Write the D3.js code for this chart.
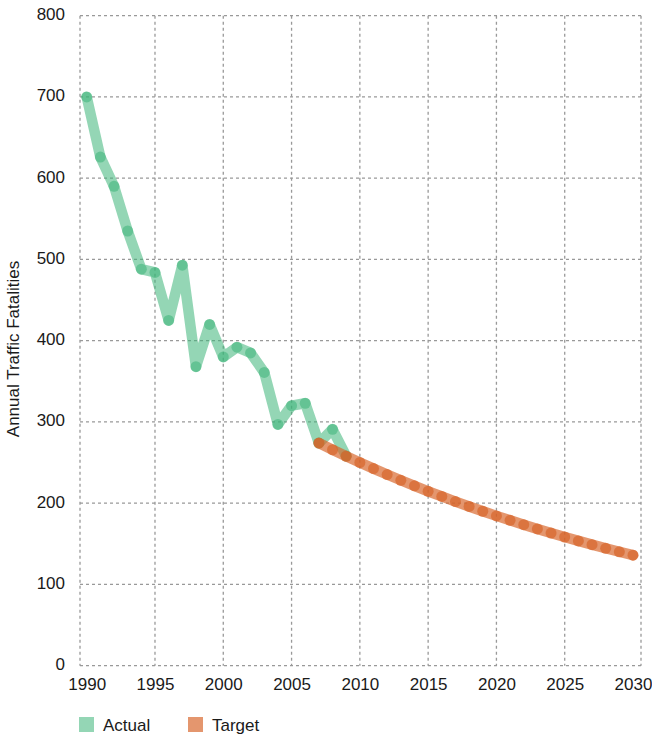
<!DOCTYPE html>
<html>
<head>
<meta charset="utf-8">
<script src="https://cdn.jsdelivr.net/npm/d3@7"></script>
<style>
  html, body { margin: 0; padding: 0; background: #fff; }
  svg text { font-family: "Liberation Sans", Arial, sans-serif; fill: #1a1a1a; }
</style>
</head>
<body>
<svg id="chart" width="652" height="738"></svg>
<script>
// Datos
const actualYears = [1990, 1991, 1992, 1993, 1994, 1995, 1996, 1997, 1998, 1999,
                     2000, 2001, 2002, 2003, 2004, 2005, 2006, 2007, 2008, 2009];
const actualValues = [700, 626, 590, 535, 488, 484, 425, 493, 368, 420,
                      380, 392, 385, 361, 297, 320, 323, 274, 291, 258];

const targetYears = [2007, 2008, 2009, 2010, 2011, 2012, 2013, 2014, 2015, 2016, 2017, 2018,
                     2019, 2020, 2021, 2022, 2023, 2024, 2025, 2026, 2027, 2028, 2029, 2030];
const targetValues = [274, 265.8, 257.8, 250.1, 242.6, 235.3, 228.2, 221.4, 214.7, 208.3, 202.0, 196.0,
                      190.1, 184.4, 178.9, 173.5, 168.3, 163.3, 158.4, 153.6, 149.0, 144.5, 140.2, 136.0];

const xTicks = [1990, 1995, 2000, 2005, 2010, 2015, 2020, 2025, 2030];
const yTicks = [0, 100, 200, 300, 400, 500, 600, 700, 800];
const seriesNames = ["Actual", "Target"];
const seriesColors = ["rgb(60,180,121)", "rgb(215,100,42)"];
const seriesOpacity = [0.55, 0.68];

const svg = d3.select("#chart");

// Área del gráfico
const plotLeft = 80, plotRight = 641, plotTop = 15.7, plotBottom = 665.7;

const x = d3.scaleLinear().domain([1990, 2030]).range([86.7, 633]);
const y = d3.scaleLinear().domain([0, 800]).range([plotBottom, plotTop]);

// Rejilla
const grid = svg.append("g")
    .attr("stroke", "#999")
    .attr("stroke-width", 1.3)
    .attr("stroke-dasharray", "3,3");

grid.selectAll("line.h")
  .data(yTicks)
  .join("line")
    .attr("class", "h")
    .attr("x1", plotLeft).attr("x2", plotRight)
    .attr("y1", d => y(d)).attr("y2", d => y(d));

const vLines = [plotLeft].concat(xTicks.slice(1, -1).map(d => x(d)), [plotRight]);
grid.selectAll("line.v")
  .data(vLines)
  .join("line")
    .attr("class", "v")
    .attr("x1", d => d).attr("x2", d => d)
    .attr("y1", plotTop).attr("y2", plotBottom);

// Ejes
const yAxis = svg.append("g")
    .attr("transform", "translate(65,0)")
    .call(d3.axisLeft(y).tickValues(yTicks).tickSize(0).tickPadding(0));
yAxis.select(".domain").remove();
yAxis.selectAll("text")
    .attr("font-size", "17px")
    .attr("dy", "4")
    .style("font-family", "'Liberation Sans', Arial, sans-serif")
    .attr("fill", "#1a1a1a");

const xAxis = svg.append("g")
    .attr("transform", "translate(0,676)")
    .call(d3.axisBottom(x).tickValues(xTicks).tickFormat(d3.format("d")).tickSize(0).tickPadding(0));
xAxis.select(".domain").remove();
xAxis.selectAll("text")
    .attr("font-size", "17px")
    .attr("dy", "14")
    .style("font-family", "'Liberation Sans', Arial, sans-serif")
    .attr("fill", "#1a1a1a");

// Título del eje Y
svg.append("text")
    .attr("transform", "translate(19,349) rotate(-90)")
    .attr("text-anchor", "middle")
    .attr("font-size", "17px")
    .text("Annual Traffic Fatalities");

// Series
const line = d3.line().x(d => x(d[0])).y(d => y(d[1]));
const series = [
  d3.zip(actualYears, actualValues),
  d3.zip(targetYears, targetValues)
];

series.forEach((pts, i) => {
  const g = svg.append("g");
  g.append("path")
      .datum(pts)
      .attr("d", line)
      .attr("fill", "none")
      .attr("stroke", seriesColors[i])
      .attr("stroke-opacity", seriesOpacity[i])
      .attr("stroke-width", 10.5)
      .attr("stroke-linecap", "round")
      .attr("stroke-linejoin", "round");
  g.selectAll("circle")
    .data(pts)
    .join("circle")
      .attr("cx", d => x(d[0]))
      .attr("cy", d => y(d[1]))
      .attr("r", 5.5)
      .attr("fill", seriesColors[i])
      .attr("fill-opacity", seriesOpacity[i]);
});

// Leyenda
const legendX = [79, 188];
const legend = svg.append("g");
seriesNames.forEach((name, i) => {
  legend.append("rect")
      .attr("x", legendX[i]).attr("y", 717)
      .attr("width", 15).attr("height", 15)
      .attr("fill", seriesColors[i])
      .attr("fill-opacity", seriesOpacity[i]);
  legend.append("text")
      .attr("x", legendX[i] + 24).attr("y", 731)
      .attr("font-size", "17px")
      .text(name);
});
</script>
</body>
</html>
